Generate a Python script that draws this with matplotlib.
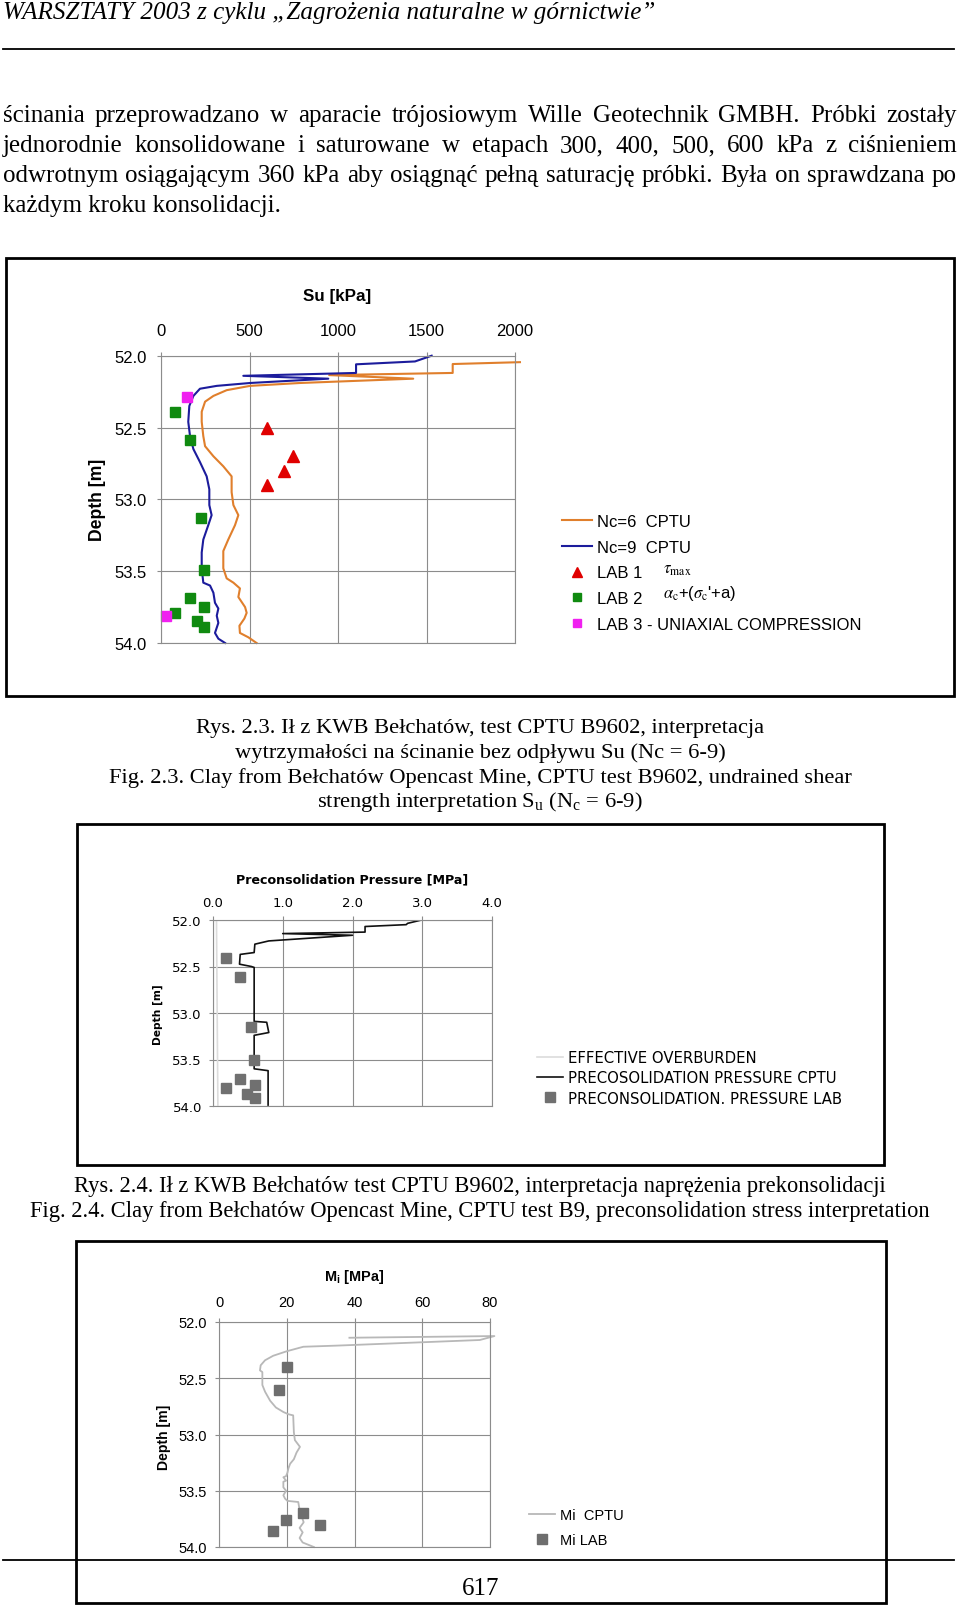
import numpy as np
import matplotlib
matplotlib.use("Agg")
from matplotlib import pyplot as plt
from matplotlib.lines import Line2D
from matplotlib.patches import Rectangle

plt.rcParams['font.family'] = ['Liberation Sans', 'DejaVu Sans']

# --- Rys. 2.3: Su [kPa] vs depth ---
nc6_su = [2028, 1648, 1648, 950, 1425, 785, 503, 371, 296, 249, 230, 230, 239, 249, 296,
          352, 399, 399, 409, 437, 418, 380, 352, 352, 371, 409, 446, 437, 475, 484, 471,
          443, 446, 493, 540]
nc6_depth = [52.045, 52.058, 52.12, 52.135, 52.16, 52.19, 52.21, 52.24, 52.28, 52.32, 52.39,
             52.46, 52.56, 52.63, 52.70, 52.77, 52.84, 52.95, 53.04, 53.11, 53.18, 53.28,
             53.36, 53.48, 53.55, 53.58, 53.62, 53.68, 53.75, 53.79, 53.83, 53.88, 53.93,
             53.96, 54.0]
nc9_su = [1529, 1435, 1102, 1102, 465, 945, 503, 315, 220, 183, 160, 154, 164, 183, 220, 258,
          273, 273, 286, 267, 239, 230, 230, 239, 277, 296, 305, 324, 315, 324, 305, 324, 362]
nc9_depth = [52.0, 52.04, 52.06, 52.12, 52.14, 52.16, 52.19, 52.21, 52.23, 52.28, 52.35,
             52.46, 52.56, 52.65, 52.74, 52.84, 52.93, 53.04, 53.11, 53.18, 53.28, 53.37,
             53.48, 53.58, 53.60, 53.65, 53.72, 53.76, 53.81, 53.86, 53.93, 53.97, 54.0]
lab1_su = [597, 748, 695, 597]
lab1_depth = [52.50, 52.70, 52.80, 52.90]
lab2_su = [79, 164, 224, 245, 164, 245, 79, 201, 245]
lab2_depth = [52.39, 52.59, 53.13, 53.49, 53.69, 53.75, 53.79, 53.85, 53.89]
lab3_su = [149, 26]
lab3_depth = [52.29, 53.81]
su_ticks = [0, 500, 1000, 1500, 2000]
depth_ticks = [52.0, 52.5, 53.0, 53.5, 54.0]

# --- Rys. 2.4: preconsolidation pressure [MPa] ---
eff_ob = [0.05, 0.07]
eff_depth = [52.0, 54.0]
pc_cptu = [2.99, 2.79, 2.77, 2.18, 2.18, 1.0, 2.0, 0.80, 0.60, 0.59, 0.39, 0.38, 0.55, 0.59,
           0.59, 0.77, 0.80, 0.59, 0.59, 0.79, 0.79]
pc_depth = [52.0, 52.036, 52.05, 52.07, 52.13, 52.146, 52.164, 52.225, 52.26, 52.35, 52.37,
            52.475, 52.50, 52.51, 53.09, 53.10, 53.21, 53.24, 53.60, 53.62, 53.99]
pc_lab = [0.19, 0.39, 0.54, 0.59, 0.39, 0.60, 0.19, 0.49, 0.60]
pc_lab_depth = [52.41, 52.61, 53.15, 53.51, 53.71, 53.77, 53.81, 53.875, 53.91]
pc_ticks = [0.0, 1.0, 2.0, 3.0, 4.0]

# --- Mi [MPa] ---
mi_cptu = [38.5, 81.3, 77, 34.7, 24.9, 20, 16, 13.6, 12.3, 12.1, 12.8, 12.8, 13.6, 15.1, 16.8,
           19, 20.5, 21.9, 22.1, 22.4, 23.9, 22.9, 22.1, 21, 20.5, 20.2, 19.8, 19, 19.8, 19,
           19, 19.8, 19, 19.5, 20.2, 23.4, 23.9, 24.3, 25, 23.8, 24.7, 23.8, 24.7, 28]
mi_depth = [52.14, 52.125, 52.16, 52.21, 52.22, 52.26, 52.30, 52.34, 52.385, 52.43, 52.445,
            52.56, 52.62, 52.70, 52.76, 52.80, 52.82, 52.83, 52.98, 53.05, 53.11, 53.16,
            53.22, 53.26, 53.30, 53.34, 53.37, 53.38, 53.41, 53.42, 53.47, 53.50, 53.54,
            53.57, 53.59, 53.60, 53.69, 53.72, 53.78, 53.83, 53.87, 53.92, 53.96, 54.0]
mi_lab = [20, 17.8, 24.7, 19.8, 29.8, 15.8]
mi_lab_depth = [52.40, 52.60, 53.70, 53.76, 53.80, 53.86]
mi_ticks = [0, 20, 40, 60, 80]

header = "WARSZTATY 2003 z cyklu \u201eZagrożenia naturalne w górnictwie\u201d"
body = ["ścinania przeprowadzano w aparacie trójosiowym Wille Geotechnik GMBH. Próbki zostały",
        "jednorodnie konsolidowane i saturowane w etapach 300, 400, 500, 600 kPa z ciśnieniem",
        "odwrotnym osiągającym 360 kPa aby osiągnąć pełną saturację próbki. Była on sprawdzana po",
        "każdym kroku konsolidacji."]
cap1 = ["Rys. 2.3. Ił z KWB Bełchatów, test CPTU B9602, interpretacja",
        "wytrzymałości na ścinanie bez odpływu Su (Nc = 6-9)",
        "Fig. 2.3. Clay from Bełchatów Opencast Mine, CPTU test B9602, undrained shear",
        r"strength interpretation S$_\mathregular{u}$ (N$_\mathregular{c}$ = 6-9)"]
cap2 = ["Rys. 2.4. Ił z KWB Bełchatów test CPTU B9602, interpretacja naprężenia prekonsolidacji",
        "Fig. 2.4. Clay from Bełchatów Opencast Mine, CPTU test B9, preconsolidation stress interpretation"]

W, H = 960, 1608
fig = plt.figure(figsize=(W / 100, H / 100), dpi=100)
renderer = fig.canvas.get_renderer()
SERIF = ['Liberation Serif', 'DejaVu Serif']


def fx(x):
    return x / W


def fy(y):
    return 1 - y / H


def text_w(s, size, **kw):
    t = fig.text(0, 0, s, fontsize=size, **kw)
    w = t.get_window_extent(renderer).width
    t.remove()
    return w


def fit(s, width, **kw):
    return 20 * width / text_w(s, 20, **kw)


def put(x, y, s, **kw):
    return fig.text(fx(x), fy(y), s, **kw)


def justify(line, x0, x1, y, size, **kw):
    words = line.split()
    ws = [text_w(w, size, **kw) for w in words]
    gap = (x1 - x0 - sum(ws)) / (len(words) - 1)
    x = x0
    for w, wd in zip(words, ws):
        put(x, y, w, fontsize=size, va='baseline', **kw)
        x += wd + gap


def box(x0, y0, x1, y1):
    fig.add_artist(Rectangle((fx(x0), fy(y1)), (x1 - x0) / W, (y1 - y0) / H,
                             transform=fig.transFigure, fill=False, lw=2, ec='black'))


def hrule(y):
    fig.add_artist(Line2D([fx(3), fx(954)], [fy(y), fy(y)], transform=fig.transFigure,
                          color='black', lw=1.3))


# page text
put(3, 19, header, fontsize=fit(header, 650, family=SERIF, style='italic'),
    family=SERIF, style='italic', va='baseline')
hrule(50)
bsize = fit(body[3], 278, family=SERIF)
for i, line in enumerate(body):
    yb = 122 + i * 30
    if i < 3:
        justify(line, 3, 957, yb, bsize, family=SERIF)
    else:
        put(3, yb, line, fontsize=bsize, family=SERIF, va='baseline')

csize = fit(cap1[2], 741, family=SERIF)
for i, line in enumerate(cap1):
    put(480, 733 + i * 24.8, line, fontsize=csize, family=SERIF, ha='center', va='baseline')
csize2 = fit(cap2[1], 898, family=SERIF)
for i, line in enumerate(cap2):
    put(480, 1192 + i * 25, line, fontsize=csize2, family=SERIF, ha='center', va='baseline')
hrule(1561)
put(481, 1595, "617", fontsize=18, family=SERIF, ha='center', va='baseline')

box(6, 259, 954, 697)
box(77, 825, 884, 1166)
box(76, 1242, 886, 1604)

GRID = '#8c8c8c'


def style_axes(ax, xt, xl, yt, family, size, xpad, ypad):
    ax.xaxis.tick_top()
    ax.set_xticks(xt)
    ax.set_xticklabels(xl)
    ax.set_yticks(yt)
    ax.set_yticklabels([f'{d:.1f}' for d in yt])
    ax.set_ylim(54, 52)
    ax.grid(color=GRID, lw=0.8)
    ax.set_axisbelow(True)
    for s in ax.spines.values():
        s.set_color(GRID)
        s.set_linewidth(0.8)
    ax.tick_params(axis='x', length=3, color=GRID, labelsize=size, pad=xpad)
    ax.tick_params(axis='y', length=3, color=GRID, labelsize=size, pad=ypad)
    for lab in ax.get_xticklabels() + ax.get_yticklabels():
        lab.set_family(family)


# chart 1
ax1 = fig.add_axes([fx(161), fy(644), (515 - 161) / W, (644 - 356.7) / H])
ax1.plot(nc6_su, nc6_depth, color='#e07f2c', lw=1.5, clip_on=False, label='Nc=6  CPTU')
ax1.plot(nc9_su, nc9_depth, color='#1c1c9c', lw=1.5, clip_on=False, label='Nc=9  CPTU')
ax1.plot(lab1_su, lab1_depth, ls='none', marker='^', ms=8, color='#e00000', label='LAB 1')
ax1.plot(lab2_su, lab2_depth, ls='none', marker='s', ms=6.5, color='#108a10', label='LAB 2')
ax1.plot(lab3_su, lab3_depth, ls='none', marker='s', ms=6.5, color='#f020f0',
         label='LAB 3 - UNIAXIAL COMPRESSION', clip_on=False)
ax1.set_xlim(0, 2000)
style_axes(ax1, su_ticks, [str(v) for v in su_ticks], depth_ticks, 'Liberation Sans', 12, 10, 7)
put(337, 297, "Su [kPa]", fontsize=fit("Su [kPa]", 68, weight='bold'), weight='bold',
    ha='center', va='center')
put(97, 500, "Depth [m]", fontsize=fit("Depth [m]", 82, weight='bold'), weight='bold',
    ha='center', va='center', rotation=90)
h, l = ax1.get_legend_handles_labels()
fig.legend(h, l, loc='upper left', bbox_to_anchor=(fx(562), fy(515)), frameon=False,
           fontsize=12, handlelength=1.8, handletextpad=0.3, labelspacing=0.64,
           markerscale=0.85, borderpad=0, borderaxespad=0)
put(663, 571, r'$\tau_{\rm max}$', fontsize=12, math_fontfamily='stix', va='center')
put(663, 594, r"$\alpha_{\rm c}$+($\sigma_{\rm c}$'+a)", fontsize=12, math_fontfamily='stix',
    va='center')

# chart 2
ax2 = fig.add_axes([fx(213), fy(1107), (492 - 213) / W, (1107 - 921) / H])
ax2.plot(eff_ob, eff_depth, color='#dcdcdc', lw=1.2, label='EFFECTIVE OVERBURDEN')
ax2.plot(pc_cptu, pc_depth, color='#111111', lw=1.2, label='PRECOSOLIDATION PRESSURE CPTU')
ax2.plot(pc_lab, pc_lab_depth, ls='none', marker='s', ms=6.5, color='#707070',
         label='PRECONSOLIDATION. PRESSURE LAB')
ax2.set_xlim(0, 4)
style_axes(ax2, pc_ticks, [f'{v:.1f}' for v in pc_ticks], depth_ticks, 'DejaVu Sans', 9.5, 5, 5)
t2 = "Preconsolidation Pressure [MPa]"
put(352, 880, t2, fontsize=fit(t2, 232, family='DejaVu Sans', weight='bold'),
    family='DejaVu Sans', weight='bold', ha='center', va='center')
put(158, 1015, "Depth [m]", fontsize=fit("Depth [m]", 61, family='DejaVu Sans', weight='bold'),
    family='DejaVu Sans', weight='bold', ha='center', va='center', rotation=90)
h, l = ax2.get_legend_handles_labels()
fig.legend(h, l, loc='upper left', bbox_to_anchor=(fx(537), fy(1051)), frameon=False,
           prop={'family': 'DejaVu Sans', 'size': 10.7}, handlelength=1.75, handletextpad=0.35,
           labelspacing=0.36, borderpad=0, borderaxespad=0)

# chart 3
ax3 = fig.add_axes([fx(219), fy(1548), (490 - 219) / W, (1548 - 1323) / H])
ax3.plot(mi_cptu, mi_depth, color='#b8b8b8', lw=1.3, clip_on=False, label='Mi  CPTU')
ax3.plot(mi_lab, mi_lab_depth, ls='none', marker='s', ms=6.5, color='#6e6e6e', label='Mi LAB')
ax3.set_xlim(0, 80)
style_axes(ax3, mi_ticks, [str(v) for v in mi_ticks], depth_ticks, 'Liberation Sans', 10.5, 6, 6)
t3 = r"M$_\mathregular{i}$ [MPa]"
put(354, 1277, t3, fontsize=fit(t3, 59, weight='bold'), weight='bold', ha='center', va='center')
put(164, 1437, "Depth [m]", fontsize=fit("Depth [m]", 65, weight='bold'), weight='bold',
    ha='center', va='center', rotation=90)
h, l = ax3.get_legend_handles_labels()
fig.legend(h, l, loc='upper left', bbox_to_anchor=(fx(529), fy(1509)), frameon=False,
           fontsize=10.5, handlelength=1.8, handletextpad=0.35, labelspacing=0.75,
           borderpad=0, borderaxespad=0)

fig.savefig("out.png", dpi=100)
